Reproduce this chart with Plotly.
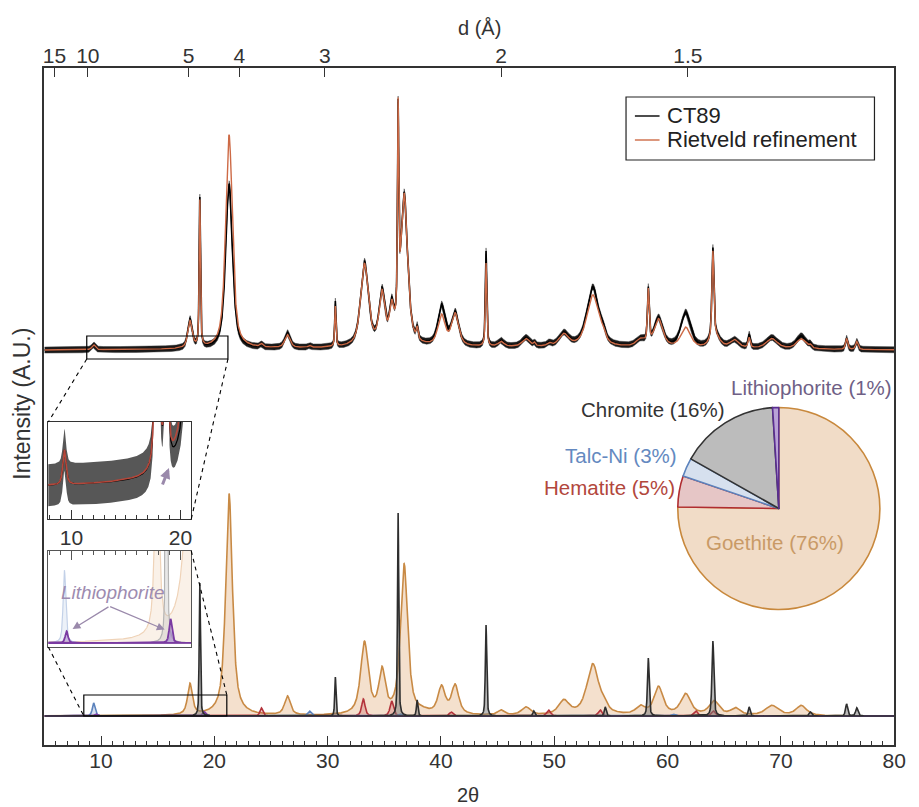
import math
import numpy as np
import plotly.graph_objects as go

# ---------------- data ----------------
D_TICK_VALUES = [15, 10, 5, 4, 3, 2, 1.5]          # d-spacing (Å) ticks on the top axis
D_TICK_TEXT = ["15", "10", "5", "4", "3", "2", "1.5"]
TWO_THETA_TICKS = [10, 20, 30, 40, 50, 60, 70, 80]
INSET_TICKS = [10, 20]
CU_KALPHA = 1.5406                                   # Å, converts d to 2θ
LEGEND_NAMES = ["CT89", "Rietveld refinement"]

# CT89 pattern: peak centre (°2θ), FWHM (°), calculated (Rietveld) and observed heights
PAT_POS = [9.35, 17.85, 18.72, 21.30, 24.15, 26.45, 28.40, 30.68, 33.25, 34.80,
           35.65, 36.22, 36.75, 37.90, 40.05, 41.25, 43.98, 45.30, 47.50, 48.25,
           49.55, 50.85, 53.40, 54.30, 57.60, 58.30, 59.20, 61.60, 64.00, 64.20,
           65.90, 67.20, 69.20, 71.80, 72.60, 75.80, 76.70]
PAT_FWHM = [0.35, 0.45, 0.13, 0.70, 0.30, 0.55, 0.30, 0.13, 0.80, 0.60,
            0.45, 0.13, 0.72, 0.18, 0.75, 0.75, 0.15, 0.60, 0.80, 0.20,
            0.40, 1.00, 1.25, 0.50, 0.90, 0.18, 0.90, 1.00, 0.20, 1.00,
            0.90, 0.22, 1.20, 1.00, 0.25, 0.22, 0.25]
CALC_H = [5.0, 27, 146, 214, 3, 13, 2, 40, 82, 50,
          32, 202, 150, 11, 30, 32, 83, 5, 8, 3,
          3, 12, 52, 7, 7, 53, 28, 20, 87, 11,
          8, 10, 10, 10, 3, 11, 8]
OBS_H = [5.0, 29, 149, 165, 3, 15, 2, 45, 84, 52,
         34, 200, 151, 12, 40, 33, 95, 6, 9, 3,
         3, 13, 60, 8, 7, 54, 29, 35, 89, 12,
         8, 13, 11, 13, 3, 11, 8]
# broad background hump under the pattern
BG_POS, BG_FWHM, BG_H = [45.0], [50.0], [3.5]
NOISE_AMP = 3.0

# Individual phases: centre, FWHM, height
GOE_POS = [17.85, 21.30, 26.45, 33.25, 34.80, 36.75, 38.40, 40.05, 41.25, 45.30, 47.50,
           50.85, 53.40, 54.40, 57.60, 59.20, 61.60, 64.10, 66.00, 69.20, 71.80]
GOE_W = [0.50, 0.70, 0.60, 0.80, 0.65, 0.75, 1.20, 0.75, 0.75, 0.70, 0.90,
         1.10, 1.25, 0.70, 0.95, 0.95, 1.05, 1.05, 0.95, 1.30, 1.10]
GOE_H = [31, 222, 19, 72, 42, 150, 2, 27, 29, 5, 8,
         14, 51, 6, 8, 28, 21, 14, 7, 10, 10]

CHR_POS = [18.72, 30.68, 36.22, 37.90, 43.98, 48.20, 54.50, 58.30, 64.00, 67.20, 72.60, 75.80, 76.70]
CHR_W = [0.13, 0.13, 0.13, 0.15, 0.15, 0.20, 0.20, 0.18, 0.20, 0.20, 0.25, 0.22, 0.25]
CHR_H = [133, 39, 203, 16, 91, 5, 9, 58, 75, 9, 4, 12, 8]

HEM_POS = [24.15, 33.15, 35.65, 40.90, 49.50, 54.05, 62.50, 64.05]
HEM_W = [0.30, 0.35, 0.35, 0.35, 0.40, 0.40, 0.40, 0.40]
HEM_H = [8, 17, 15, 4, 6, 6, 5, 5]

TALC_POS = [9.35, 19.20, 28.40, 36.40, 60.50]
TALC_W = [0.28, 0.35, 0.35, 0.40, 0.40]
TALC_H = [13, 2, 5, 2, 2]

LITH_POS = [9.55, 19.10]
LITH_W = [0.30, 0.30]
LITH_H = [2.1, 4.3]

PIE_LABELS = ["Goethite", "Hematite", "Talc-Ni", "Chromite", "Lithiophorite"]
PIE_VALUES = [76, 5, 3, 16, 1]

# ---------------- geometry / styling ----------------
W, H = 919, 807
PL, PR, PT, PB = 44, 906, 68, 745
MAIN_BASE = 394
PHASE_BASE = 29
INSET1 = (48, 422, 193, 519)
INSET2 = (48, 551, 193, 647)
INSET_XR = [7.87, 21.0]
K1, BASE1_PX, BASE1 = 7.0, 485, 395.2
K2, BASE2_PX = 5.6, 643
INSET1_YR = [BASE1 - (INSET1[3] - BASE1_PX) / K1, BASE1 + (BASE1_PX - INSET1[1]) / K1]
INSET2_YR = [PHASE_BASE - (INSET2[3] - BASE2_PX) / K2, PHASE_BASE + (BASE2_PX - INSET2[1]) / K2]
FONT = "Liberation Sans, Arial, Helvetica, sans-serif"
TXT = "#333333"
OBS_COLOR, CALC_COLOR = "black", "#cd6a46"

COL = {
    "Goethite": ("#c88a45", "rgba(228,180,135,0.42)"),
    "Hematite": ("#b3323a", "rgba(200,90,90,0.30)"),
    "Talc-Ni": ("#5b82bc", "rgba(120,150,205,0.30)"),
    "Chromite": ("#2e2e2e", "rgba(120,120,120,0.50)"),
    "Lithiophorite": ("#7a3aa2", "rgba(150,100,195,0.40)"),
}
FADED = {
    "Goethite": ("#efd3b8", "rgba(240,215,190,0.35)"),
    "Chromite": ("#b4b4b4", "rgba(190,190,190,0.35)"),
    "Talc-Ni": ("#c3d1e8", "rgba(200,215,235,0.35)"),
    "Hematite": ("#e6c2c2", "rgba(235,200,200,0.30)"),
}
ETA = {"Goethite": 0.75, "Hematite": 0.6, "Talc-Ni": 0.6, "Lithiophorite": 0.6, "Chromite": 0.5}

X = np.round(np.arange(5.0, 80.0 + 1e-9, 0.01), 2)


def profile(pos, fwhm, height, eta=0.6):
    y = np.zeros_like(X)
    for p, w, h in zip(pos, fwhm, height):
        d = (X - p) / w
        y += h * (eta / (1 + 4 * d * d) + (1 - eta) * np.exp(-4 * math.log(2) * d * d))
    return y


bg = profile(BG_POS, BG_FWHM, BG_H, eta=0.6)
calc = MAIN_BASE + bg + profile(PAT_POS, PAT_FWHM, CALC_H, 0.65)
obs = MAIN_BASE + bg + profile(PAT_POS, PAT_FWHM, OBS_H, 0.65)

phases = {
    "Goethite": profile(GOE_POS, GOE_W, GOE_H, ETA["Goethite"]),
    "Hematite": profile(HEM_POS, HEM_W, HEM_H, ETA["Hematite"]),
    "Talc-Ni": profile(TALC_POS, TALC_W, TALC_H, ETA["Talc-Ni"]),
    "Lithiophorite": profile(LITH_POS, LITH_W, LITH_H, ETA["Lithiophorite"]),
    "Chromite": profile(CHR_POS, CHR_W, CHR_H, ETA["Chromite"]),
}

fig = go.Figure()


def phase_trace(name, y, line_c, fill_c, xa="x", ya="y", mask=None, lw=1.6):
    xs, ys = X, PHASE_BASE + y
    if mask is not None:
        xs, ys = xs[mask], ys[mask]
    px = np.concatenate([xs, [xs[-1], xs[0]]])
    py = np.concatenate([np.round(ys, 3), [PHASE_BASE, PHASE_BASE]])
    return go.Scatter(x=px, y=py, mode="lines", fill="toself", fillcolor=fill_c,
                      line=dict(color=line_c, width=lw), xaxis=xa, yaxis=ya,
                      showlegend=False, hoverinfo="skip", name=name)


# phases in the main panel
for name in ["Goethite", "Hematite", "Talc-Ni", "Lithiophorite", "Chromite"]:
    lc, fc = COL[name]
    fig.add_trace(phase_trace(name, phases[name], lc, fc))

# observed pattern (noisy band) + calculated
band_x = np.concatenate([X, X[::-1]])
band_y = np.round(np.concatenate([obs + NOISE_AMP, (obs - NOISE_AMP)[::-1]]), 3)
fig.add_trace(go.Scatter(x=band_x, y=band_y, mode="lines", fill="toself",
                         fillcolor="rgba(0,0,0,0.9)", line=dict(width=0.8, color="rgba(60,60,60,0.6)"),
                         showlegend=False, hoverinfo="skip"))
fig.add_trace(go.Scatter(x=X, y=np.round(obs, 3), mode="lines", name=LEGEND_NAMES[0],
                         line=dict(color=OBS_COLOR, width=1.6), hoverinfo="skip", showlegend=False))
fig.add_trace(go.Scatter(x=X, y=np.round(calc, 3), mode="lines", name=LEGEND_NAMES[1],
                         line=dict(color=CALC_COLOR, width=1.4), hoverinfo="skip", showlegend=False))

# dummy trace to activate the top d-spacing axis
fig.add_trace(go.Scatter(x=[5, 80], y=[None, None], xaxis="x2", yaxis="y",
                         showlegend=False, hoverinfo="skip"))

# inset 1: zoom of observed vs calculated
m = (X >= INSET_XR[0] - 0.5) & (X <= INSET_XR[1] + 0.5)
ix = X[m]
fig.add_trace(go.Scatter(x=np.concatenate([ix, ix[::-1]]),
                         y=np.round(np.concatenate([obs[m] + NOISE_AMP, (obs[m] - NOISE_AMP)[::-1]]), 3),
                         mode="lines", fill="toself", fillcolor="rgba(0,0,0,0.66)",
                         line=dict(width=0), xaxis="x3", yaxis="y3",
                         showlegend=False, hoverinfo="skip"))
fig.add_trace(go.Scatter(x=ix, y=np.round(obs[m], 3), mode="lines", line=dict(color="black", width=1.2),
                         xaxis="x3", yaxis="y3", showlegend=False, hoverinfo="skip"))
fig.add_trace(go.Scatter(x=ix, y=np.round(calc[m], 3), mode="lines", line=dict(color="#b5473a", width=1.6),
                         xaxis="x3", yaxis="y3", showlegend=False, hoverinfo="skip"))

# inset 2: zoom of the phases, lithiophorite highlighted
for name in ["Goethite", "Hematite", "Talc-Ni", "Chromite"]:
    lc, fc = FADED[name]
    fig.add_trace(phase_trace(name, phases[name], lc, fc, "x4", "y4", m, 1.2))
lc, fc = COL["Lithiophorite"]
fig.add_trace(phase_trace("Lithiophorite", phases["Lithiophorite"], lc, fc, "x4", "y4", m, 1.8))

# pie chart of phase proportions
pie_cx, pie_cy, pie_r = 789, 508.5, 102.5
fig.add_trace(go.Pie(
    labels=PIE_LABELS, values=PIE_VALUES, sort=False, direction="clockwise", rotation=0,
    textinfo="none", hoverinfo="label+percent", showlegend=False,
    marker=dict(colors=["#f1dcc7", "#e6c6c6", "#d6e0ee", "#bcbcbc", "#b9a2d6"],
                line=dict(color=["#c8883c", "#b02c30", "#5b82bc", "#333333", "#5a2d91"], width=1.6)),
    domain=dict(x=[(pie_cx - pie_r) / W, (pie_cx + pie_r) / W],
                y=[1 - (pie_cy + pie_r) / H, 1 - (pie_cy - pie_r) / H]),
))


def bragg(d):
    return 2 * math.degrees(math.asin(CU_KALPHA / (2 * d)))


axis_common = dict(showgrid=False, zeroline=False, linecolor="#333333", tickcolor="#333333",
                   tickfont=dict(family=FONT, size=21, color=TXT))

fig.update_layout(
    width=W, height=H, margin=dict(l=0, r=0, t=0, b=0),
    paper_bgcolor="white", plot_bgcolor="rgba(0,0,0,0)",
    font=dict(family=FONT, size=20, color=TXT),
    showlegend=False,
    xaxis=dict(domain=[PL / W, PR / W], range=[5, 80], anchor="y", tickmode="array",
               tickvals=TWO_THETA_TICKS, ticks="inside", ticklen=9, tickwidth=1.3,
               ticklabelstandoff=-4,
               minor=dict(tickmode="linear", tick0=0, dtick=1, ticks="inside", ticklen=4,
                          tickcolor="#333333", tickwidth=1),
               showline=True, linewidth=1.6, **axis_common),
    xaxis2=dict(overlaying="x", side="top", anchor="y", range=[5, 80], tickmode="array",
                tickvals=[bragg(d) for d in D_TICK_VALUES], ticktext=D_TICK_TEXT,
                ticks="inside", ticklen=9, tickwidth=1.3, showline=True, linewidth=1.6,
                ticklabelstandoff=-5, **axis_common),
    yaxis=dict(domain=[1 - PB / H, 1 - PT / H], range=[0, PB - PT], anchor="x",
               showline=True, mirror=True, linewidth=1.6, ticks="", showticklabels=False,
               **axis_common),
    xaxis3=dict(domain=[INSET1[0] / W, INSET1[2] / W], range=INSET_XR, anchor="y3",
                tickmode="array", tickvals=INSET_TICKS, ticks="inside", ticklen=9, tickwidth=1,
                minor=dict(tickmode="linear", tick0=0, dtick=1, ticks="inside", ticklen=4,
                           tickcolor="#333333", tickwidth=1),
                showline=True, mirror=True, linewidth=1.2, **axis_common),
    yaxis3=dict(domain=[1 - INSET1[3] / H, 1 - INSET1[1] / H], range=INSET1_YR, anchor="x3",
                showline=True, mirror=True, linewidth=1.2, ticks="", showticklabels=False,
                **axis_common),
    xaxis4=dict(domain=[INSET2[0] / W, INSET2[2] / W], range=INSET_XR, anchor="y4", side="top",
                tickmode="array", tickvals=INSET_TICKS, ticks="inside", ticklen=9, tickwidth=1,
                showticklabels=False,
                minor=dict(tickmode="linear", tick0=0, dtick=1, ticks="inside", ticklen=4,
                           tickcolor="#555555", tickwidth=1),
                showline=True, mirror=True, linewidth=1.2,
                **{**axis_common, "linecolor": "#555555", "tickcolor": "#555555"}),
    yaxis4=dict(domain=[1 - INSET2[3] / H, 1 - INSET2[1] / H], range=INSET2_YR, anchor="x4",
                showline=True, mirror=True, linewidth=1.2, ticks="", showticklabels=False,
                **{**axis_common, "linecolor": "#555555"}),
    hovermode=False,
)


def main_px(x, y):
    return PL + (x - 5) / 75 * (PR - PL), PB - y


def paper(px, py):
    return px / W, 1 - py / H


shapes = []
# zoom rectangles in the main panel
RECT_TOP = (8.74, 386, 21.2, 409)
RECT_BOT = (8.48, PHASE_BASE, 21.1, 50)
for r in (RECT_TOP, RECT_BOT):
    shapes.append(dict(type="rect", xref="x", yref="y", x0=r[0], y0=r[1], x1=r[2], y1=r[3],
                       line=dict(color="black", width=1.2), fillcolor="rgba(0,0,0,0)"))


def dashed(p0, p1):
    a, b = paper(*p0)
    c, d = paper(*p1)
    shapes.append(dict(type="line", xref="paper", yref="paper", x0=a, y0=b, x1=c, y1=d,
                       line=dict(color="black", width=1.1, dash="4px,4px")))


dashed(main_px(RECT_TOP[0], RECT_TOP[1]), (INSET1[0], INSET1[1]))
dashed(main_px(RECT_TOP[2], RECT_TOP[1]), (INSET1[2], INSET1[3]))
dashed((INSET2[0], INSET2[3]), main_px(RECT_BOT[0], RECT_BOT[1]))
dashed((INSET2[2], INSET2[1]), main_px(RECT_BOT[2], RECT_BOT[3]))

# legend box (drawn explicitly to match the compact original)
LEG = (634, 97, 886, 160)
lx0, ly0 = paper(LEG[0], LEG[1])
lx1, ly1 = paper(LEG[2], LEG[3])
shapes.append(dict(type="rect", xref="paper", yref="paper", x0=lx0, y0=ly0, x1=lx1, y1=ly1,
                   line=dict(color="#222222", width=1.2), fillcolor="white", layer="above"))
LEG_ROWS = [116, 140]
for row_y, colr in zip(LEG_ROWS, [OBS_COLOR, CALC_COLOR]):
    a, b = paper(643, row_y)
    c, _ = paper(668, row_y)
    shapes.append(dict(type="line", xref="paper", yref="paper", x0=a, y0=b, x1=c, y1=b,
                       line=dict(color=colr, width=1.4), layer="above"))
fig.update_layout(shapes=shapes)

ann = []


def label(text, px, py, size=20, color=TXT, angle=0, italic=False, anchor="center"):
    x, y = paper(px, py)
    ann.append(dict(text=text, x=x, y=y, xref="paper", yref="paper", showarrow=False,
                    xanchor=anchor, yanchor="middle", textangle=angle,
                    font=dict(family=FONT, size=size, color=color,
                              style="italic" if italic else "normal")))


for row_y, name in zip(LEG_ROWS, LEGEND_NAMES):
    label(name, 674, row_y, size=22, color="#222222", anchor="left")

label("d (Å)", 485, 28, size=20)
label("2θ", 474, 795, size=20)
label("Intensity (A.U.)", 21, 404, size=23, angle=-90)

# pie labels
label("Lithiophorite (1%)", 822, 387, size=20.5, color="#6f5f86")
label("Chromite (16%)", 661, 409, size=20.5, color="#333333")
label("Talc-Ni (3%)", 629, 455, size=20.5, color="#6489c0")
label("Hematite (5%)", 617, 487, size=20.5, color="#b2473c")
label("Goethite (76%)", 785, 542, size=20.5, color="#c99a66")

# inset annotations
label("Lithiophorite", 114, 592, size=19, color="#9d8bb0", italic=True)
ARROW_C = "#9a89ab"
for hx, hy in [(10.1, 31.5), (18.55, 31.4)]:
    ann.append(dict(x=hx, y=hy, xref="x4", yref="y4", text="", showarrow=True,
                    ax=110 - (INSET2[0] + (hx - INSET_XR[0]) / (INSET_XR[1] - INSET_XR[0]) * (INSET2[2] - INSET2[0])),
                    ay=606 - (BASE2_PX - (hy - PHASE_BASE) * K2),
                    arrowhead=2, arrowsize=1.2, arrowwidth=1.3, arrowcolor=ARROW_C))
ann.append(dict(x=18.95, y=BASE1 + (BASE1_PX - 468) / K1, xref="x3", yref="y3", text="",
                showarrow=True, ax=-7, ay=18, arrowhead=2, arrowsize=0.7, arrowwidth=3,
                arrowcolor=ARROW_C))
fig.update_layout(annotations=ann)

fig.write_html("out.html")
